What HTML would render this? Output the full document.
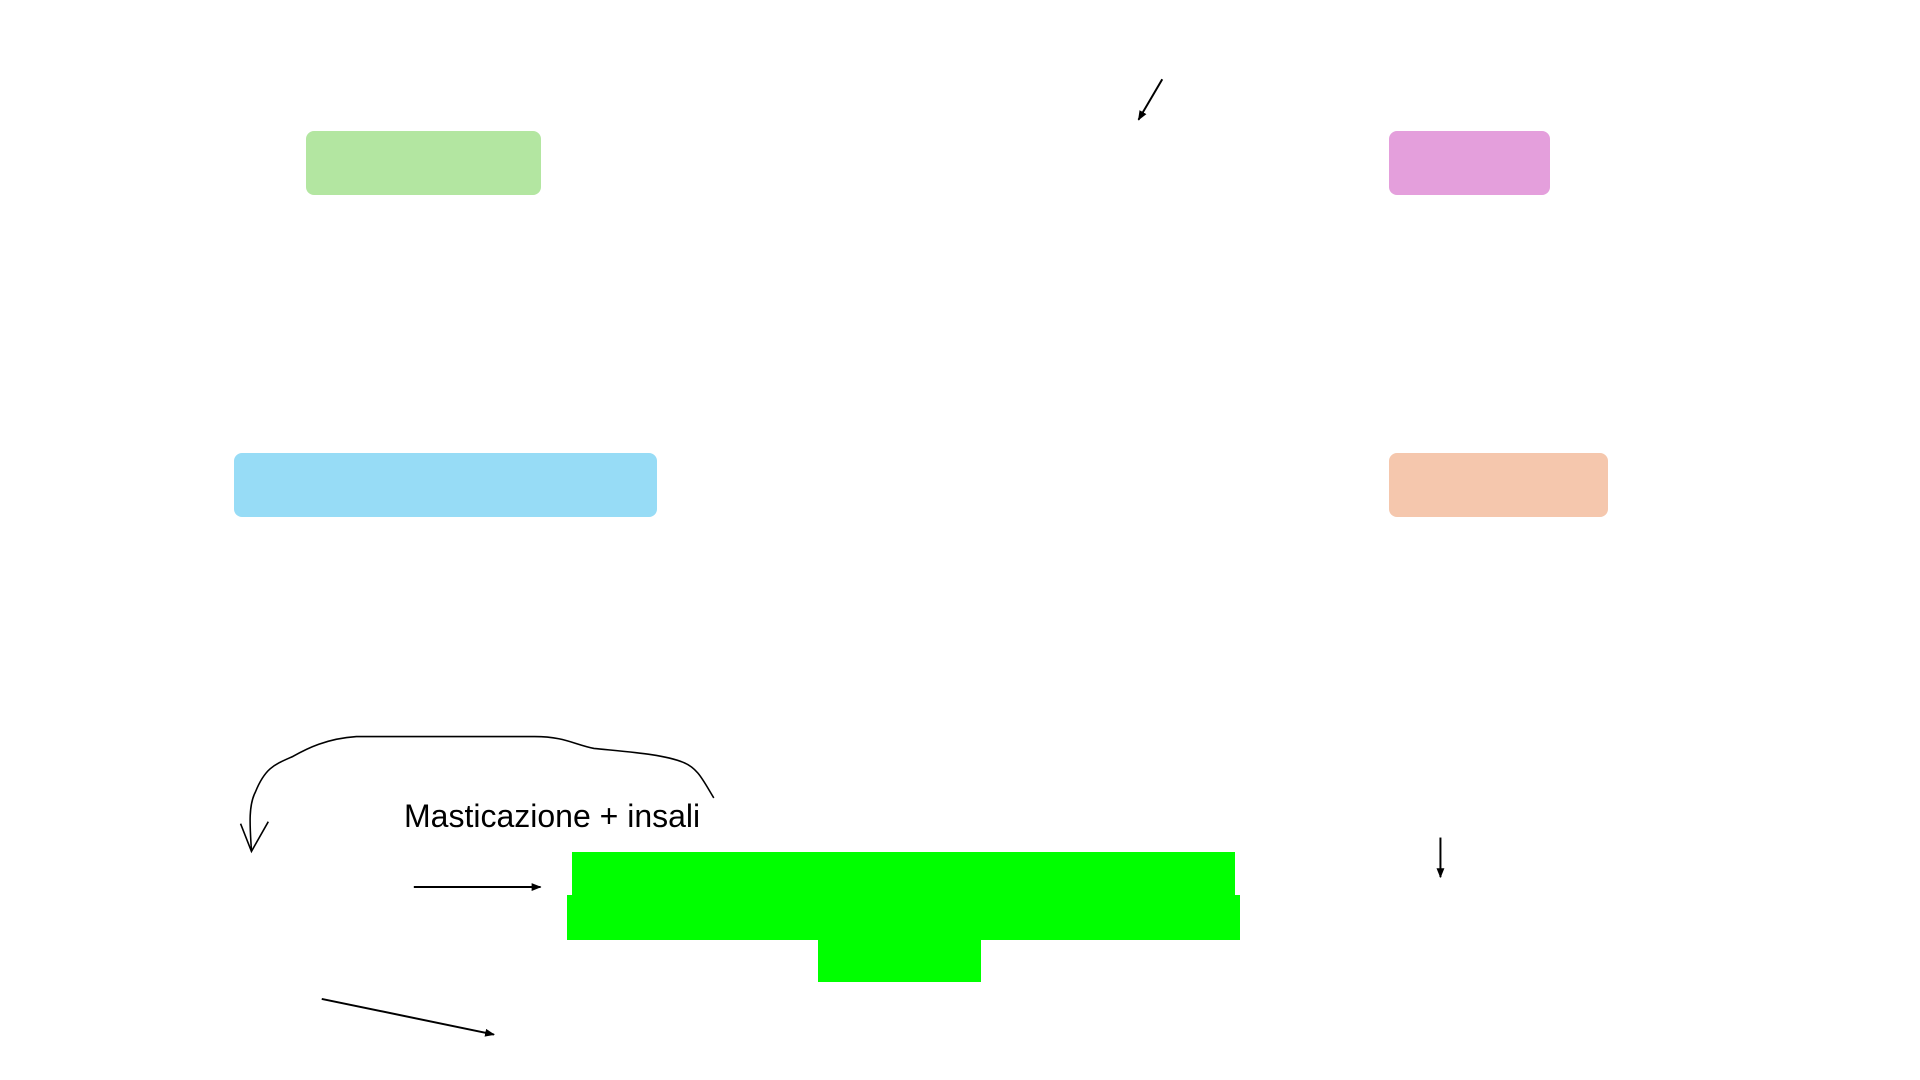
<!DOCTYPE html>
<html><head><meta charset="utf-8"><style>
html,body{margin:0;padding:0;background:#fff;width:1920px;height:1080px;overflow:hidden;position:relative}
.b{position:absolute}
</style></head><body>
<div class="b" style="left:306px;top:131px;width:235px;height:64px;background:#b3e6a1;border-radius:8px"></div>
<div class="b" style="left:1389px;top:131px;width:161px;height:64px;background:#e49fdc;border-radius:8px"></div>
<div class="b" style="left:234px;top:453px;width:423px;height:64px;background:#97dcf6;border-radius:8px"></div>
<div class="b" style="left:1389px;top:453px;width:219px;height:64px;background:#f5c7ad;border-radius:8px"></div>
<div class="b" style="left:572px;top:852px;width:663px;height:45px;background:#00ff00"></div>
<div class="b" style="left:567px;top:895px;width:673px;height:45px;background:#00ff00"></div>
<div class="b" style="left:818px;top:938px;width:163px;height:44px;background:#00ff00"></div>
<div class="b" style="left:404px;top:798px;font-family:'Liberation Sans',sans-serif;font-size:32px;color:#000;white-space:nowrap">Masticazione + insali</div>
<svg class="b" style="left:0;top:0" width="1920" height="1080">
<defs><marker id="a" markerWidth="10" markerHeight="8" refX="9" refY="4" orient="auto" markerUnits="userSpaceOnUse"><path d="M0,0 L10,4 L0,8z" fill="#000"/></marker></defs>
<g stroke="#000" stroke-width="2" fill="none" transform="scale(0.99)">
<line x1="418" y1="896" x2="546" y2="896" marker-end="url(#a)"/>
<line x1="325" y1="1009" x2="499" y2="1045" marker-end="url(#a)"/>
<line x1="1455" y1="846" x2="1455" y2="886" marker-end="url(#a)"/>
<line x1="1174" y1="80" x2="1150" y2="121" marker-end="url(#a)"/>
<path stroke-width="1.6" d="M721,806 C710,788 705,776 690,770 C670,762 640,760 600,756 C580,752 570,744 540,744 L360,744 C330,746 310,756 296,764 C278,772 268,775 258,800 C250,815 253,840 254,860"/>
<path stroke-width="1.6" d="M243,832 L254,860 L271,830"/>
</g></svg>
</body></html>
